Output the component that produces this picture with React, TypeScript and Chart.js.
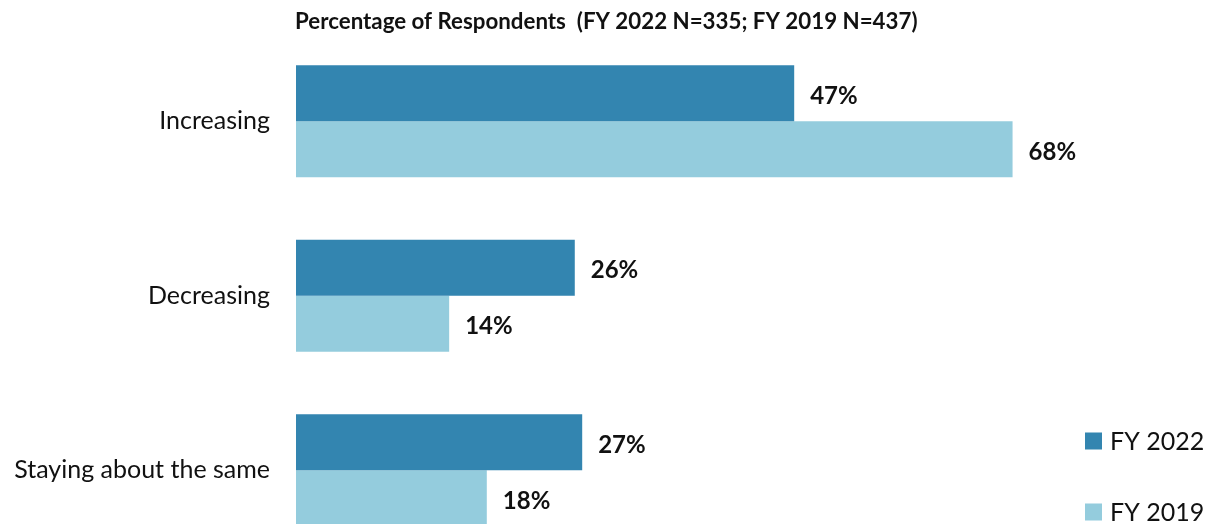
import React, { useEffect, useRef } from "react";
import { Chart, registerables } from "chart.js";

Chart.register(...registerables);

const categories = ["Increasing", "Decreasing", "Staying about the same"];
const seriesLabels = ["FY 2022", "FY 2019"];
const fy2022 = [47.0, 26.3, 27.0];
const fy2019 = [67.6, 14.45, 18.0];
const seriesColors = ["#3385B0", "#94CCDD"];
const titleText = "Percentage of Respondents  (FY 2022 N=335; FY 2019 N=437)";

const FONT = "Lato, 'Liberation Sans', sans-serif";
const TEXT_COLOR = "#111111";

const valueLabelPlugin = {
  id: "valueLabels",
  afterDatasetsDraw(chart: any) {
    const ctx = chart.ctx;
    ctx.save();
    ctx.font = `bold 24px ${FONT}`;
    ctx.fillStyle = TEXT_COLOR;
    ctx.textAlign = "left";
    ctx.textBaseline = "middle";
    chart.data.datasets.forEach((ds: any, i: number) => {
      const meta = chart.getDatasetMeta(i);
      meta.data.forEach((el: any, j: number) => {
        const v = ds.data[j];
        ctx.fillText(`${Math.round(v)}%`, el.x + 16, el.y + 3);
      });
    });
    ctx.restore();
  },
};

const titlePlugin = {
  id: "customTitle",
  afterDraw(chart: any) {
    const ctx = chart.ctx;
    ctx.save();
    ctx.font = `bold 22.3px ${FONT}`;
    ctx.fillStyle = TEXT_COLOR;
    ctx.textAlign = "left";
    ctx.textBaseline = "middle";
    ctx.fillText(titleText, chart.chartArea.left - 1, 22);
    ctx.restore();
  },
};

const legendPlugin = {
  id: "customLegend",
  afterDraw(chart: any) {
    const ctx = chart.ctx;
    ctx.save();
    const boxX = chart.width - 131;
    const rows = [441, 512];
    chart.data.datasets.forEach((ds: any, i: number) => {
      const cy = rows[i];
      ctx.fillStyle = ds.backgroundColor;
      ctx.fillRect(boxX, cy - 8.5, 17, 17);
      ctx.font = `25px ${FONT}`;
      ctx.fillStyle = TEXT_COLOR;
      ctx.textAlign = "left";
      ctx.textBaseline = "middle";
      ctx.fillText(ds.label, boxX + 25, cy + 1);
    });
    ctx.restore();
  },
};

export default function App() {
  const ref = useRef<HTMLCanvasElement | null>(null);

  useEffect(() => {
    if (!ref.current) return;
    const chart = new Chart(ref.current, {
      type: "bar",
      data: {
        labels: categories,
        datasets: [
          {
            label: seriesLabels[0],
            data: fy2022,
            backgroundColor: seriesColors[0],
            borderWidth: 0,
            categoryPercentage: 0.642,
            barPercentage: 1,
          },
          {
            label: seriesLabels[1],
            data: fy2019,
            backgroundColor: seriesColors[1],
            borderWidth: 0,
            categoryPercentage: 0.642,
            barPercentage: 1,
          },
        ],
      },
      options: {
        indexAxis: "y",
        responsive: false,
        animation: false,
        layout: { padding: { top: 34, bottom: 2.5, left: 0, right: 72 } },
        plugins: {
          legend: { display: false },
          title: { display: false },
          tooltip: { enabled: false },
        },
        scales: {
          x: {
            display: false,
            min: 0,
            max: 80,
          },
          y: {
            grid: { display: false, drawTicks: false },
            border: { display: false },
            ticks: {
              padding: 26,
              color: TEXT_COLOR,
              font: { family: FONT, size: 25 },
            },
            afterFit(scale: any) {
              scale.width = 296;
              scale.paddingTop = 0;
              scale.paddingBottom = 0;
            },
          },
        },
      },
      plugins: [valueLabelPlugin, titlePlugin, legendPlugin],
    } as any);
    return () => chart.destroy();
  }, []);

  return (
    <div
      style={{
        position: "fixed",
        left: 0,
        top: 0,
        width: 1216,
        height: 524,
        overflow: "hidden",
        background: "#ffffff",
      }}
    >
      <canvas ref={ref} width={1216} height={560} style={{ width: 1216, height: 560, display: "block" }} />
    </div>
  );
}
